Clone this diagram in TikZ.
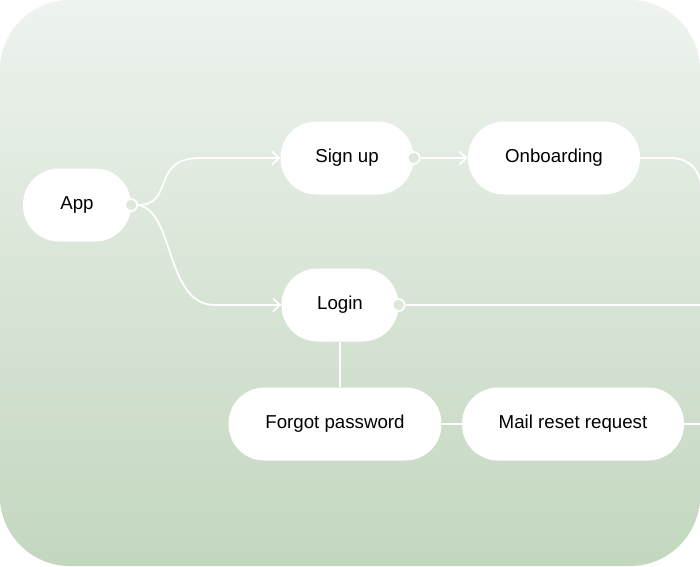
\documentclass[tikz,border=0pt]{standalone}
\usepackage{fontspec}
\setmainfont{Liberation Sans}
\usetikzlibrary{arrows.meta}
\definecolor{topc}{HTML}{EEF3EE}
\definecolor{botc}{HTML}{C3D7BF}
\begin{document}
\begin{tikzpicture}[x=1pt,y=-1pt,
  box/.style={draw=none,fill=white,rounded corners=36pt,minimum height=73pt,font=\fontsize{18.7}{22}\selectfont},
  ln/.style={draw=white,line width=1.8pt},
  arr/.style={ln,-{Straight Barb[length=7pt,width=13pt]}},
  dot/.style={circle,draw=white,line width=1.8pt,fill=botc!40!topc,inner sep=0pt,minimum size=12pt}]
\useasboundingbox (0,0) rectangle (700,566);
\begin{scope}
\clip[rounded corners=70pt] (0,0) rectangle (700,566);
\shade[top color=topc,bottom color=botc] (0,0) rectangle (700,566);
\node[box,minimum width=108pt] (app) at (77,205) {App};
\node[box,minimum width=133pt] (signup) at (347,158) {Sign up};
\node[box,minimum width=172pt] (onb) at (554,158) {Onboarding};
\node[box,minimum width=117pt] (login) at (340,305) {Login};
\node[box,minimum width=213pt] (forgot) at (335,424) {Forgot password};
\node[box,minimum width=222pt] (mail) at (573,424) {Mail reset request};
\coordinate (e1) at (702,190);
\coordinate (e2) at (702,305);
\coordinate (e3) at (702,424);
\node[dot] (d1) at (app.east) {};
\node[dot] (d2) at (signup.east) {};
\node[dot] (d3) at (login.east) {};
\draw[arr] (d1.east) .. controls (175,205) and (150,158) .. (200,158) -- (signup.west);
\draw[arr] (d1.east) .. controls (175,211) and (165,305) .. (215,305) -- (login.west);
\draw[arr] (d2.east) -- (onb.west);
\draw[ln] (onb.east) -- (670,158) .. controls (690,158) and (700,170) .. (e1);
\draw[ln] (d3.east) -- (e2);
\draw[ln] (login.south) -- (forgot.north -| login.south);
\draw[ln] (forgot.east) -- (mail.west);
\draw[ln] (mail.east) -- (e3);
\end{scope}
\end{tikzpicture}
\end{document}
